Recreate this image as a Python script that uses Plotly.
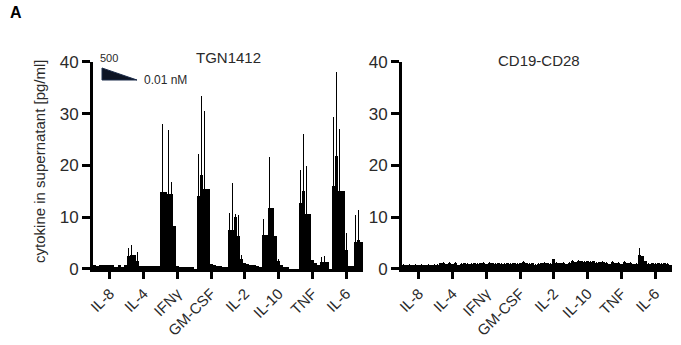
import plotly.graph_objects as go

# Cytokines measured (one group of titration bars per cytokine)
cytokines = ["IL-8", "IL-4", "IFNγ", "GM-CSF", "IL-2", "IL-10", "TNF", "IL-6"]
n_conc = 11  # 500 nM ... 0.01 nM

# TGN1412: mean cytokine level per concentration [pg/ml]
tgn_il8 = [0.8, 0.6, 0.8, 0.8, 0.8, 0.8, 0.8, 0.3, 0.8, 0.3, 0.8]
tgn_il4 = [2.6, 2.7, 2.7, 1.6, 0.6, 0.5, 0.5, 0.5, 0.6, 0.5, 0.6]
tgn_ifng = [14.8, 14.8, 14.5, 14.5, 8.4, 0.5, 0.3, 0.3, 0.2, 0.3, 0.2]
tgn_gmcsf = [0.0, 14.1, 18.1, 15.4, 15.4, 1.0, 0.8, 0.6, 0.5, 0.4, 0.4]
tgn_il2 = [7.5, 7.5, 10.0, 6.3, 2.0, 1.1, 0.9, 0.8, 0.7, 0.5, 0.2]
tgn_il10 = [6.6, 6.6, 11.8, 11.8, 6.3, 1.5, 0.8, 0.4, 0.2, 0.0, 0.0]
tgn_tnf = [0.0, 12.7, 15.1, 10.6, 10.6, 1.7, 1.2, 0.7, 1.4, 1.4, 1.3]
tgn_il6 = [0.0, 16.0, 21.8, 15.1, 15.1, 3.7, 0.5, 0.5, 5.2, 5.6, 5.3]

# TGN1412: upper error (SD) per concentration
tgn_il8_sd = [0, 0, 0, 0, 0, 0, 0, 0, 0, 0, 0]
tgn_il4_sd = [1.4, 1.9, 0, 1.7, 0, 0, 0, 0, 0, 0, 0]
tgn_ifng_sd = [13.2, 0, 12.4, 2.3, 0, 0, 0, 0, 0, 0, 0]
tgn_gmcsf_sd = [0, 8.1, 15.4, 15.1, 0, 0, 0, 0, 0, 0, 0]
tgn_il2_sd = [3.4, 9.2, 0.6, 4.2, 0.8, 0, 0, 0, 0, 0, 0]
tgn_il10_sd = [3.1, 0, 9.8, 0, 0, 0.5, 0, 0, 0, 0, 0]
tgn_tnf_sd = [0, 6.4, 11.0, 9.3, 0, 0, 0, 0, 0.9, 1.2, 0]
tgn_il6_sd = [0, 13.4, 16.2, 11.9, 0, 3.3, 0, 0, 5.2, 5.8, 0]

# CD19-CD28: mean cytokine level per concentration [pg/ml]
cd_il8 = [0.8, 0.8, 0.8, 0.8, 0.7, 0.8, 0.8, 0.8, 0.8, 0.8, 0.7]
cd_il4 = [0.8, 1.1, 1.1, 1.0, 1.1, 1.0, 1.1, 0.8, 1.0, 1.1, 0.9]
cd_ifng = [1.0, 1.1, 1.0, 1.2, 1.1, 1.0, 1.2, 1.1, 1.0, 1.2, 0.9]
cd_gmcsf = [0.9, 1.1, 1.0, 1.2, 1.0, 1.1, 1.3, 1.1, 1.0, 1.2, 0.8]
cd_il2 = [1.0, 1.2, 1.1, 1.2, 1.0, 1.9, 1.2, 1.1, 1.2, 1.0, 1.1]
cd_il10 = [1.5, 1.4, 1.5, 1.6, 1.4, 1.5, 1.3, 1.5, 1.2, 1.4, 1.3]
cd_tnf = [1.2, 1.0, 1.3, 1.1, 1.2, 1.0, 1.3, 1.1, 1.2, 1.0, 0.9]
cd_il6 = [2.7, 2.6, 1.5, 1.0, 1.2, 0.9, 1.1, 1.0, 1.2, 0.9, 0.7]

cd_il6_sd = [1.4, 0, 0, 0.2, 0, 0.2, 0, 0.2, 0, 0.2, 0]
cd_small_sd = [0.2, 0, 0.2, 0, 0.2, 0, 0.2, 0, 0.2, 0, 0.2]

tgn_means = tgn_il8 + tgn_il4 + tgn_ifng + tgn_gmcsf + tgn_il2 + tgn_il10 + tgn_tnf + tgn_il6
tgn_sd = (tgn_il8_sd + tgn_il4_sd + tgn_ifng_sd + tgn_gmcsf_sd + tgn_il2_sd
          + tgn_il10_sd + tgn_tnf_sd + tgn_il6_sd)
cd_means = cd_il8 + cd_il4 + cd_ifng + cd_gmcsf + cd_il2 + cd_il10 + cd_tnf + cd_il6
cd_sd = cd_small_sd * 7 + cd_il6_sd

xpos = [i + 0.5 for i in range(n_conc * len(cytokines))]
tick_pos = [g * n_conc + n_conc / 2 for g in range(len(cytokines))]

FONT = "Arial, Liberation Sans, Helvetica, sans-serif"
TXT = "#2a2a2a"


def bars(y, sd, xa, ya):
    return go.Bar(
        x=xpos, y=y, xaxis=xa, yaxis=ya, width=1,
        marker=dict(color="black", line=dict(width=0)),
        error_y=dict(type="data", array=sd, arrayminus=[0] * len(sd),
                     symmetric=False, color="black", thickness=1, width=0),
        showlegend=False, hoverinfo="skip",
    )


fig = go.Figure([bars(tgn_means, tgn_sd, "x", "y"), bars(cd_means, cd_sd, "x2", "y2")])

xcommon = dict(
    range=[0, n_conc * len(cytokines)], tickmode="array", tickvals=tick_pos,
    ticktext=cytokines, tickangle=-45, ticks="outside", ticklen=7, tickwidth=3,
    tickcolor="black", showline=True, linewidth=3, linecolor="black",
    showgrid=False, zeroline=False, automargin=False,
    tickfont=dict(family=FONT, size=15, color=TXT),
)
ycommon = dict(
    range=[0, 40], tickmode="array", tickvals=[0, 10, 20, 30, 40],
    ticks="outside", ticklen=8, tickwidth=3, tickcolor="black",
    showline=True, linewidth=3, linecolor="black", showgrid=False, zeroline=False,
    automargin=False, tickfont=dict(family=FONT, size=17, color=TXT),
)

fig.update_layout(
    template="none",
    width=681, height=345, margin=dict(l=0, r=0, t=0, b=0, pad=0),
    paper_bgcolor="white", plot_bgcolor="white", bargap=0,
    xaxis=dict(domain=[0.1366, 0.533], anchor="y", **xcommon),
    xaxis2=dict(domain=[0.5903, 0.9868], anchor="y2", **xcommon),
    yaxis=dict(domain=[0.2203, 0.8203], anchor="x", **ycommon),
    yaxis2=dict(domain=[0.2203, 0.8203], anchor="x2", **ycommon),
    font=dict(family=FONT, color=TXT),
)

annotations = [
    dict(text="<b>A</b>", x=0.012, y=0.965, xanchor="left", yanchor="middle",
         font=dict(size=16, color="black")),
    dict(text="TGN1412", x=0.336, y=0.832, xanchor="center", yanchor="middle",
         font=dict(size=15)),
    dict(text="CD19-CD28", x=0.792, y=0.826, xanchor="center", yanchor="middle",
         font=dict(size=15)),
    dict(text="cytokine in supernatant [pg/ml]", x=0.057, y=0.533, textangle=-90,
         xanchor="center", yanchor="middle", font=dict(size=15)),
    dict(text="500", x=0.144, y=0.832, xanchor="left", yanchor="middle",
         font=dict(size=11)),
    dict(text="0.01 nM", x=0.209, y=0.768, xanchor="left", yanchor="middle",
         font=dict(size=12)),
]
for a in annotations:
    a.update(xref="paper", yref="paper", showarrow=False)
fig.update_layout(annotations=annotations)

# Concentration wedge: 500 nM (tall end) down to 0.01 nM
fig.add_shape(type="path", xref="paper", yref="paper",
              path="M 0.1498 0.8029 L 0.1498 0.7681 L 0.2012 0.7681 Z",
              fillcolor="#0d1424", line=dict(color="#1c2c4a", width=1))

fig.write_html("out.html")
